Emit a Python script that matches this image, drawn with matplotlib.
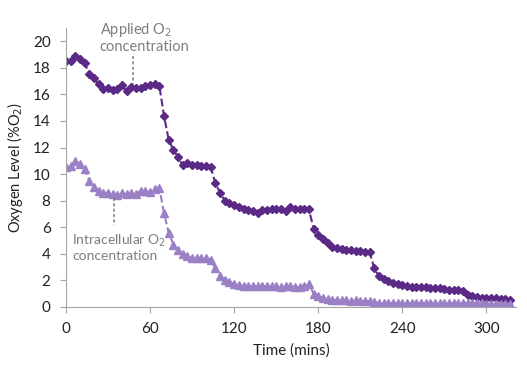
import matplotlib
matplotlib.use('Agg')
import matplotlib.pyplot as plt

# время измерений, мин
t = [0, 3.3, 6.7, 10, 13.3, 16.7, 20, 23.3, 26.7, 30, 33.3, 36.7, 40, 43.3, 46.7, 50,
     53.3, 56.7, 60, 63.3, 66.7, 70, 73.3, 76.7, 80, 83.3, 86.7, 90, 93.3, 96.7, 100,
     103.3, 106.7, 110, 113.3, 116.7, 120, 123.3, 126.7, 130, 133.3, 136.7, 140, 143.3,
     146.7, 150, 153.3, 156.7, 160, 163.3, 166.7, 170, 173.3, 176.7, 180, 183.3, 186.7,
     190, 193.3, 196.7, 200, 203.3, 206.7, 210, 213.3, 216.7, 220, 223.3, 226.7, 230,
     233.3, 236.7, 240, 243.3, 246.7, 250, 253.3, 256.7, 260, 263.3, 266.7, 270, 273.3,
     276.7, 280, 283.3, 286.7, 290, 293.3, 296.7, 300, 303.3, 306.7, 310, 313.3, 316.7]

applied = [18.5, 18.5, 18.9, 18.7, 18.4, 17.5, 17.2, 16.8, 16.4, 16.45, 16.3, 16.4, 16.7,
           16.25, 16.55, 16.5, 16.45, 16.6, 16.7, 16.75, 16.6, 14.4, 12.6, 11.8, 11.3, 10.65,
           10.85, 10.7, 10.7, 10.6, 10.6, 10.5, 9.3, 8.6, 8.0, 7.8, 7.65, 7.5, 7.4, 7.3, 7.25,
           7.1, 7.3, 7.3, 7.35, 7.4, 7.4, 7.25, 7.55, 7.4, 7.4, 7.4, 7.35, 5.9, 5.4, 5.1, 4.8,
           4.5, 4.4, 4.35, 4.3, 4.25, 4.2, 4.2, 4.15, 4.1, 2.9, 2.3, 2.1, 1.95, 1.8, 1.7, 1.65,
           1.55, 1.5, 1.5, 1.5, 1.5, 1.45, 1.45, 1.4, 1.35, 1.3, 1.3, 1.25, 1.2, 0.9, 0.8,
           0.75, 0.7, 0.7, 0.65, 0.65, 0.6, 0.6, 0.55]

intra = [10.5, 10.6, 10.95, 10.75, 10.4, 9.5, 9.05, 8.7, 8.6, 8.6, 8.5, 8.4, 8.55, 8.5,
         8.55, 8.5, 8.75, 8.7, 8.65, 8.85, 8.95, 7.05, 5.6, 4.7, 4.3, 3.95, 3.8, 3.7, 3.7,
         3.7, 3.7, 3.55, 2.9, 2.3, 2.0, 1.85, 1.75, 1.65, 1.6, 1.6, 1.55, 1.6, 1.55, 1.55,
         1.6, 1.55, 1.5, 1.55, 1.55, 1.5, 1.5, 1.55, 1.7, 1.0, 0.8, 0.7, 0.6, 0.55, 0.5,
         0.5, 0.5, 0.45, 0.5, 0.45, 0.45, 0.45, 0.35, 0.3, 0.3, 0.3, 0.3, 0.3, 0.3, 0.3,
         0.3, 0.3, 0.3, 0.3, 0.3, 0.3, 0.3, 0.3, 0.3, 0.3, 0.3, 0.3, 0.3, 0.3, 0.3, 0.3,
         0.25, 0.25, 0.25, 0.25, 0.25, 0.25]

xticks = [0, 60, 120, 180, 240, 300]
yticks = [0, 2, 4, 6, 8, 10, 12, 14, 16, 18, 20]

dark = '#5a2a86'
light = '#9c80c6'
grey = '#7f7f7f'

plt.rcParams['font.family'] = ['Lato', 'DejaVu Sans']
fig = plt.figure(figsize=(5.27, 3.78), dpi=100)
ax = fig.add_axes([0.125, 0.188, 0.854, 0.738])

ax.plot(t, applied, '--', color=dark, lw=1.5, marker='D', ms=4.5, mec=dark, mfc=dark)
ax.plot(t, intra, '--', color=light, lw=1.5, marker='^', ms=5.5, mec=light, mfc=light)

ax.set_xlim(0, 321)
ax.set_ylim(0, 21)
ax.set_xticks(xticks)
ax.set_yticks(yticks)
for s in ['top', 'right']:
    ax.spines[s].set_visible(False)
for s in ['left', 'bottom']:
    ax.spines[s].set_color('#a6a6a6')
ax.tick_params(colors='#a6a6a6', labelcolor='#222222', labelsize=11, length=4, pad=7)
ax.set_xlabel('Time (mins)', fontsize=11, color='#222222', labelpad=5)
ax.set_ylabel('Oxygen Level (%O$_2$)', fontsize=10.5, color='#222222', labelpad=6)

# підписи кривих з пунктирними виносками
ax.text(24, 21.5, 'Applied O$_2$\nconcentration', fontsize=10.5, color=grey,
        va='top', ha='left', linespacing=1.1, clip_on=False)
ax.plot([48, 48], [18.9, 16.75], color=grey, lw=1.1, ls=(0, (2, 1.5)))
ax.text(4.5, 5.6, 'Intracellular O$_2$\nconcentration', fontsize=10, color=grey,
        va='top', ha='left', linespacing=1.15)
ax.plot([34.3, 34.3], [8.2, 6.2], color=grey, lw=1.1, ls=(0, (2, 1.5)))

fig.savefig('out.png', dpi=100)
